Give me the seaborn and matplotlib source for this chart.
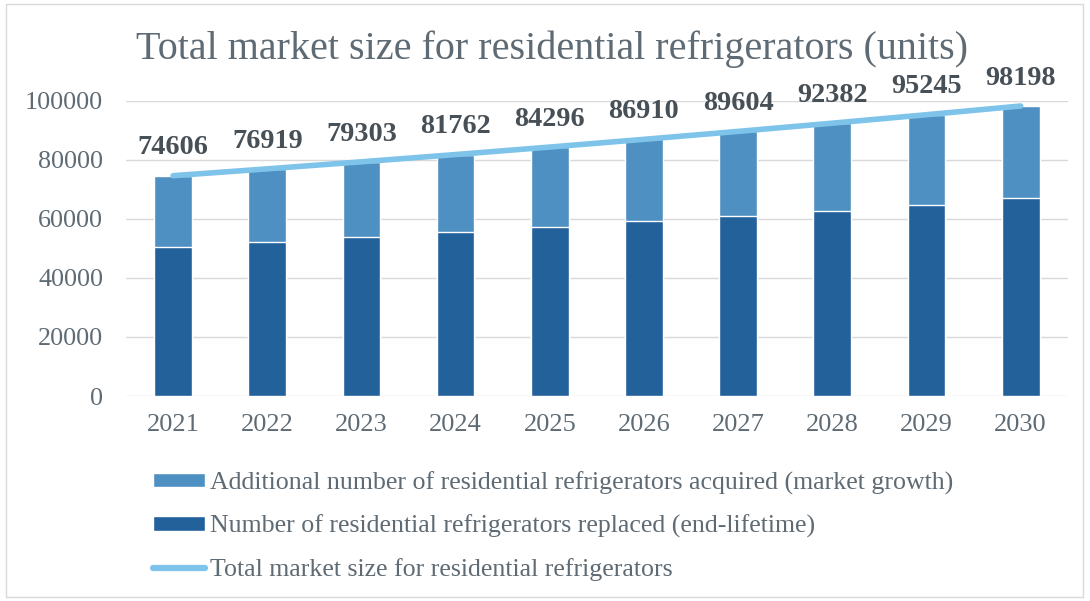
import matplotlib
import numpy as np
import pandas as pd

matplotlib.use("Agg")
import matplotlib.pyplot as plt
import seaborn as sns
from matplotlib.lines import Line2D
from matplotlib.patches import Patch, Rectangle

# values
years = ["2021", "2022", "2023", "2024", "2025", "2026", "2027", "2028", "2029", "2030"]
replaced = [50600, 52200, 53900, 55500, 57300, 59100, 61100, 62800, 64700, 66900]
total = [74606, 76919, 79303, 81762, 84296, 86910, 89604, 92382, 95245, 98198]
additional = [t - r for t, r in zip(total, replaced)]

legend_labels = [
    "Additional number of residential refrigerators acquired (market growth)",
    "Number of residential refrigerators replaced (end-lifetime)",
    "Total market size for residential refrigerators",
]
title = "Total market size for residential refrigerators (units)"

DARK = "#23619B"
LIGHT = "#4F90C2"
LINE = "#7DC3EA"
TEXT = "#5F6B74"
LABEL = "#474F57"
GRID = "#D9D9D9"

df = pd.DataFrame(
    {"year": years, "replaced": replaced, "additional": additional, "total": total}
)

sns.set_theme(style="white")
plt.rcParams["font.family"] = ["Liberation Serif", "DejaVu Serif"]

fig = plt.figure(figsize=(10.9, 6.01), dpi=100)
ax = fig.add_axes([0.1156, 0.341, 0.864, 0.4915])

# stacked bars: full total in light colour, replaced part in dark on top of it
sns.barplot(data=df, x="year", y="total", color=LIGHT, width=0.4, saturation=1, ax=ax)
sns.barplot(data=df, x="year", y="replaced", color=DARK, width=0.4, saturation=1, ax=ax)

xpos = np.arange(len(years))
sns.lineplot(x=xpos, y=df["total"].values, color=LINE, lw=4, ax=ax,
             solid_capstyle="round", zorder=4)

for i, v in enumerate(total):
    ax.annotate(f"{v}", (i, v), xytext=(0, 20), textcoords="offset points",
                ha="center", va="center", fontsize=20.3, fontweight="bold",
                color=LABEL, annotation_clip=False)

ax.set_ylim(0, 100000)
ax.set_xlim(-0.5, len(years) - 0.5)
ax.set_yticks(range(0, 100001, 20000))
ax.set_xlabel("")
ax.set_ylabel("")
ax.yaxis.grid(True, color=GRID, lw=1)
ax.set_axisbelow(True)
for s in ax.spines.values():
    s.set_visible(False)
ax.tick_params(axis="y", length=0, pad=16.5, labelsize=18.8, labelcolor=TEXT)
ax.tick_params(axis="x", length=0, pad=13, labelsize=19, labelcolor=TEXT)

fig.text(0.5064, 1 - 59 / 601, title, ha="center", va="baseline",
         fontsize=28.9, color=TEXT)

handles = [
    Patch(facecolor=LIGHT),
    Patch(facecolor=DARK),
    Line2D([], [], color=LINE, lw=4.5, solid_capstyle="round"),
]
fig.legend(handles, legend_labels, loc="center left",
           bbox_to_anchor=(153 / 1090, 1 - 526 / 601), frameon=False,
           fontsize=18.65, labelcolor=TEXT, borderpad=0, borderaxespad=0,
           handlelength=2.0, handleheight=0.49, handletextpad=0.2,
           labelspacing=0.77)

fig.add_artist(Rectangle((6 / 1090, 4 / 601), 1077 / 1090, 593 / 601,
                         transform=fig.transFigure, fill=False,
                         ec=GRID, lw=1))

fig.savefig("out.png", dpi=100)
plt.close(fig)
